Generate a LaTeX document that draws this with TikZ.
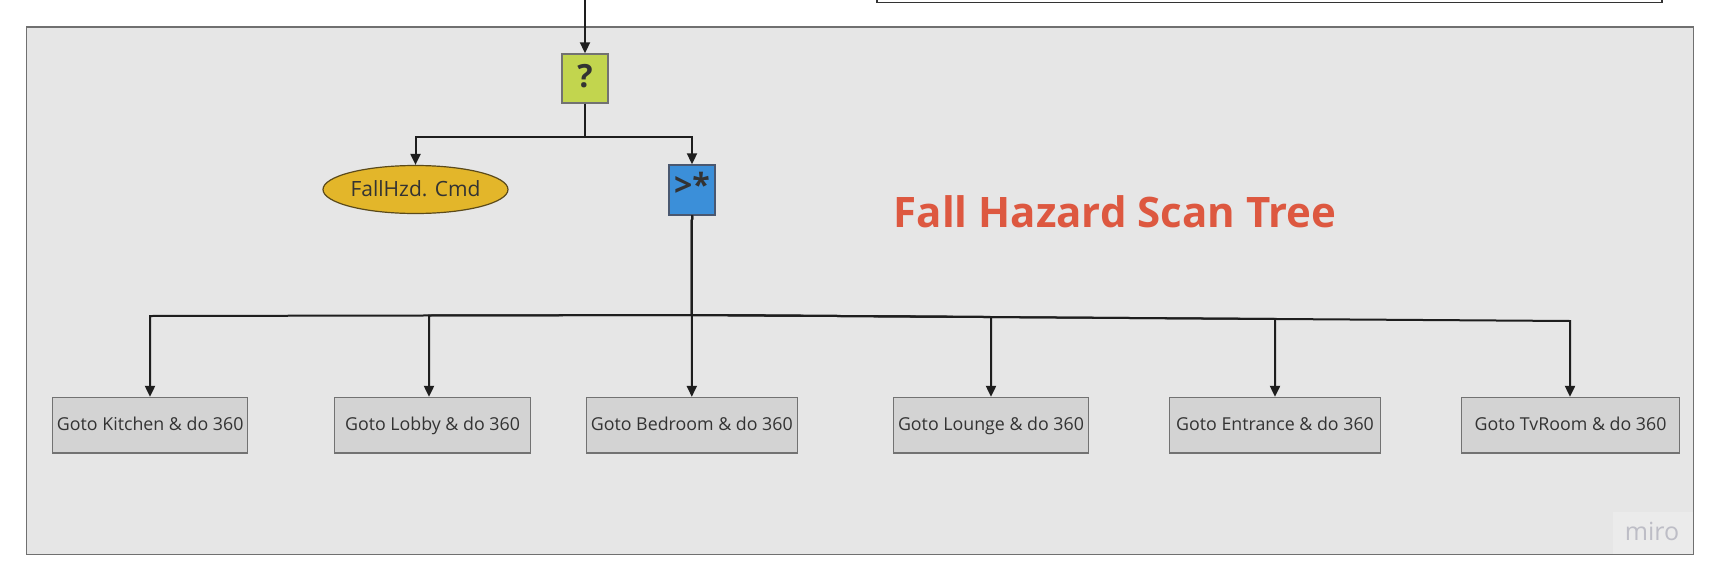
\documentclass[tikz,border=0pt]{standalone}
\usepackage{fontspec}
\setmainfont{Open Sans}
\usetikzlibrary{arrows.meta,shapes.geometric}
\definecolor{bgc}{HTML}{E6E6E6}
\definecolor{bgborder}{HTML}{707070}
\definecolor{boxfill}{HTML}{D3D3D3}
\definecolor{boxborder}{HTML}{727272}
\definecolor{selfill}{HTML}{C2D54E}
\definecolor{seqfill}{HTML}{3B8FD9}
\definecolor{seqborder}{HTML}{4A5870}
\definecolor{ellfill}{HTML}{E3B62A}
\definecolor{ellborder}{HTML}{5B4A1A}
\definecolor{titlec}{HTML}{DD5840}
\definecolor{textc}{HTML}{333333}
\definecolor{linec}{HTML}{1E1E1E}
\definecolor{miroc}{HTML}{BDBDC6}
\definecolor{mirobox}{HTML}{EBEBEB}
\begin{document}
\begin{tikzpicture}[x=1pt,y=-1pt,
  conn/.style={draw=linec, line width=2pt, -{Triangle[length=11pt,width=10pt]}},
  room/.style={draw=boxborder, fill=boxfill, line width=1.4pt, minimum height=55.5pt, inner sep=0pt, text height=13.4pt, text depth=4pt, text=textc, font=\fontsize{17.8}{22}\selectfont},
  ctrl/.style={line width=1.4pt, minimum width=46pt, minimum height=49pt, inner sep=0pt, text=textc, font=\fontsize{32}{36}\selectfont\bfseries}
]
\useasboundingbox (0,0) rectangle (1719,581);
% frame
\path[fill=white, draw=black!80, line width=1.2pt] (877,-6) rectangle (1662,2.5);
\path[fill=bgc, draw=bgborder, line width=1.4pt] (26.5,27) rectangle (1693.5,554.5);
\path[fill=mirobox] (1613,512) rectangle (1692.8,553.8);
\node[text=miroc, font=\fontsize{25}{28}\selectfont, anchor=base, inner sep=0pt] (miro) at (1652,540.5) {miro};

% title
\node[text=titlec, font=\fontsize{42}{46}\selectfont\bfseries, anchor=base, inner sep=0pt] (title) at (1115,227) {Fall Hazard Scan Tree};

% control nodes
\coordinate (top) at (585,0);
\node[ctrl, draw=boxborder, fill=selfill, text height=20pt, text depth=2pt] (sel) at (585,78.5) {?};
\node[ellipse, draw=ellborder, fill=ellfill, line width=1.2pt, minimum width=185pt, minimum height=48pt, inner sep=0pt, text height=15pt, text depth=2pt, text=textc, font=\fontsize{21}{24}\selectfont] (fall) at (415.5,189.5) {FallHzd. Cmd};
\node[ctrl, draw=seqborder, fill=seqfill, minimum height=50pt, text height=20pt, text depth=8pt] (seq) at (692,190) {>*};

% rooms
\node[room, minimum width=195pt] (k1) at (150.2,425.3) {Goto Kitchen \& do 360};
\node[room, minimum width=196pt] (k2) at (432.5,425.3) {Goto Lobby \& do 360};
\node[room, minimum width=211pt] (k3) at (691.8,425.3) {Goto Bedroom \& do 360};
\node[room, minimum width=195pt] (k4) at (991,425.3) {Goto Lounge \& do 360};
\node[room, minimum width=210.5pt] (k5) at (1275,425.3) {Goto Entrance \& do 360};
\node[room, minimum width=218pt] (k6) at (1570.5,425.3) {Goto TvRoom \& do 360};

% connectors
\draw[conn] (top) -- (sel.north);
\coordinate (qb) at (585,137);
\draw[conn] (sel.south) -- (qb) -| (fall.north);
\draw[conn] (sel.south) -- (qb) -| (seq.north);

\coordinate (sb) at (691.8,315);
\coordinate (b1) at (150,316);
\coordinate (b2) at (429,315.5);
\coordinate (b4) at (991,317);
\coordinate (b5) at (1275,319);
\coordinate (b6) at (1570,321);
\draw[conn] (seq.south) -- (sb) -- (b1) -- (k1.north -| b1);
\draw[conn] (seq.south) -- (sb) -- (b2) -- (k2.north -| b2);
\draw[conn] (seq.south) -- (sb) -- (k3.north);
\draw[conn] (seq.south) -- (sb) -- (b4) -- (k4.north -| b4);
\draw[conn] (seq.south) -- (sb) -- (b5) -- (k5.north -| b5);
\draw[conn] (seq.south) -- (sb) -- (b6) -- (k6.north -| b6);
\end{tikzpicture}
\end{document}
